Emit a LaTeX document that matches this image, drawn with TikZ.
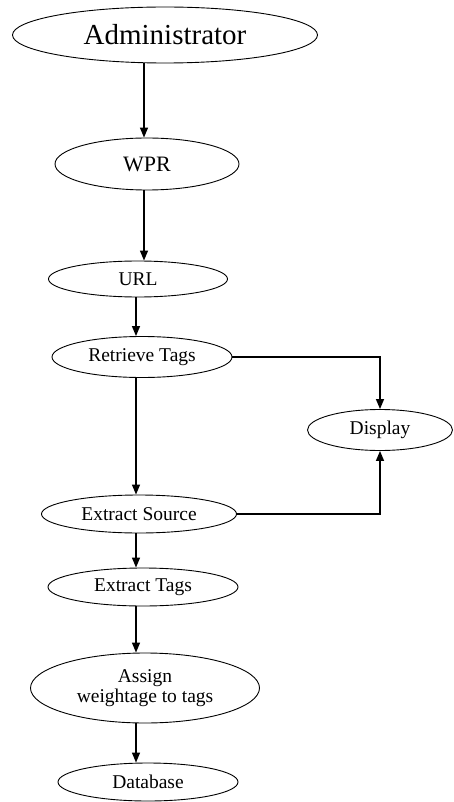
\documentclass[tikz,border=0pt]{standalone}
\usepackage{fontspec}
\setmainfont{Liberation Serif}
\usetikzlibrary{positioning, arrows.meta, shapes.geometric}

\begin{document}
\begin{tikzpicture}[
                    x=1pt, y=-1pt,
                    font=\fontsize{19.5}{20}\selectfont,
                    >={Triangle[length=10pt, width=8pt]},
                    step box/.style={ellipse, draw, line width=0.9pt, inner sep=0pt, align=center},
                    flow/.style={->, line width=1.4pt}
                ]
                    \useasboundingbox (0,0) rectangle (454,802);
                    \coordinate (spineA) at (144,0);
                    \coordinate (spineB) at (136,0);
                    \node[step box, minimum width=305pt, minimum height=56pt, font=\fontsize{29}{30}\selectfont] (admin) at (165,35) {Administrator};
                    \node[step box, minimum width=184pt, minimum height=52pt, font=\fontsize{22}{24}\selectfont] (wpr) at (147,164) {WPR};
                    \node[step box, minimum width=179pt, minimum height=36pt] (url) at (138,279) {URL};
                    \node[step box, minimum width=180pt, minimum height=41pt] (tags) at (142,357) {Retrieve Tags};
                    \node[step box, minimum width=145pt, minimum height=41pt] (disp) at (380,430) {Display};
                    \node[step box, minimum width=195pt, minimum height=38pt] (source) at (139,514) {Extract Source};
                    \node[step box, minimum width=190pt, minimum height=38pt] (extags) at (143,587) {Extract Tags};
                    \node[step box, minimum width=229pt, minimum height=70pt] (weight) at (145,688) {Assign\\weightage to tags};
                    \node[step box, minimum width=180pt, minimum height=38pt] (db) at (148,782) {Database};
                    \draw[flow] (admin.south -| spineA) -- (wpr.north -| spineA);
                    \draw[flow] (wpr.south -| spineA) -- (url.north -| spineA);
                    \draw[flow] (url.south -| spineB) -- (tags.north -| spineB);
                    \draw[flow] (tags.south -| spineB) -- (source.north -| spineB);
                    \draw[flow] (source.south -| spineB) -- (extags.north -| spineB);
                    \draw[flow] (extags.south -| spineB) -- (weight.north -| spineB);
                    \draw[flow] (weight.south -| spineB) -- (db.north -| spineB);
                    \draw[flow] (tags.east) -| (disp.north);
                    \draw[flow] (source.east) -| (disp.south);
                \end{tikzpicture}
\end{document}
